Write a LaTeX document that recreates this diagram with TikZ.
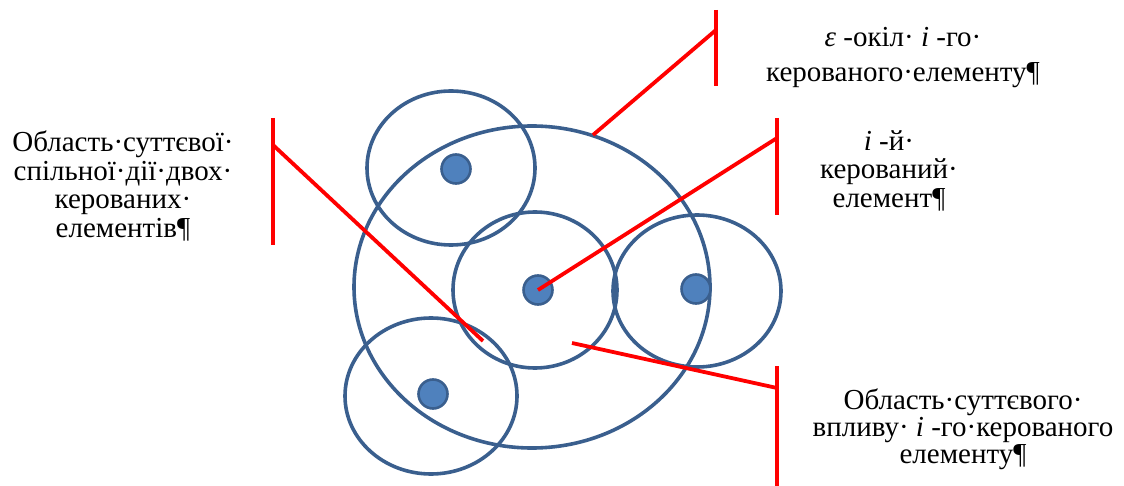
\documentclass[tikz,border=0pt]{standalone}
\usepackage{fontspec}
\setmainfont{Liberation Serif}
\begin{document}
\begin{tikzpicture}[x=1pt,y=-1pt,
  zone/.style={draw=zoneblue,line width=3.6pt},
  elem/.style={circle,draw=zoneblue,fill=dotblue,line width=2.6pt,minimum size=29pt,inner sep=0pt},
  leader/.style={draw=red,line width=3.8pt},
  lbl/.style={align=center,inner sep=0pt,text=black,anchor=north}]
\definecolor{zoneblue}{HTML}{3A5F8E}
\definecolor{dotblue}{HTML}{4F81BD}
\useasboundingbox (0,0) rectangle (1124,486);
% zones
\draw[zone] (532,287) ellipse [x radius=178,y radius=161];
\draw[zone] (451,168) ellipse [x radius=84,y radius=77];
\draw[zone] (535,290) ellipse [x radius=82,y radius=78];
\draw[zone] (697,291) ellipse [x radius=84,y radius=76];
\draw[zone] (431,396) ellipse [x radius=86,y radius=78];
% elements
\node[elem] (e1) at (456,169) {};
\node[elem] (e0) at (538,290) {};
\node[elem] (e2) at (696,289) {};
\node[elem] (e3) at (433,394) {};
% leader anchor coordinates
\coordinate (a1) at (593,135);
\coordinate (j1) at (716,30);
\coordinate (t1) at (716,10);
\coordinate (b1) at (716,86);
\coordinate (j2) at (777,138);
\coordinate (t2) at (777,118);
\coordinate (b2) at (777,215);
\coordinate (a3) at (483,341);
\coordinate (j3) at (273,145);
\coordinate (t3) at (273,118);
\coordinate (b3) at (273,245);
\coordinate (a4) at (572,343);
\coordinate (j4) at (777,388);
\coordinate (t4) at (777,366);
\coordinate (b4) at (777,486);
% leaders
\draw[leader] (a1) -- (j1);
\draw[leader] (t1) -- (b1);
\draw[leader] (e0.center) -- (j2);
\draw[leader] (t2) -- (b2);
\draw[leader] (a3) -- (j3);
\draw[leader] (t3) -- (b3);
\draw[leader] (a4) -- (j4);
\draw[leader] (t4) -- (b4);
% labels
\node[lbl,font=\fontsize{29}{35}\selectfont] (l1) at (903,27) {\textit{ε} -окіл· \textit{i} -го·\\керованого·елементу¶};
\node[lbl,font=\fontsize{29}{28.5}\selectfont] (l2) at (123,131) {Область·суттєвої·\\спільної·дії·двох·\\керованих·\\елементів¶};
\node[lbl,font=\fontsize{29}{28.5}\selectfont] (l3) at (889,130) {\textit{i} -й·\\керований·\\елемент¶};
\node[lbl,font=\fontsize{29}{27}\selectfont] (l4) at (963,389) {Область·суттєвого·\\впливу· \textit{i} -го·керованого\\елементу¶};
\end{tikzpicture}
\end{document}
